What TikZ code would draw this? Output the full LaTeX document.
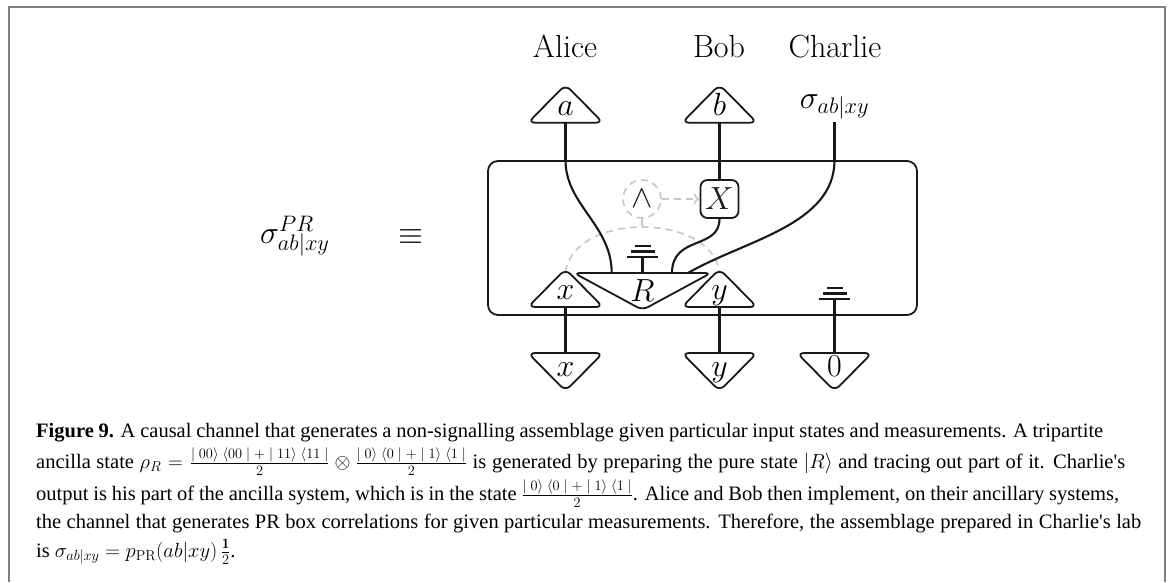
\documentclass[tikz,border=0pt]{standalone}
\usepackage{fix-cm}
\usepackage{fontspec}
\usetikzlibrary{arrows.meta}
\newfontfamily\capfam{Liberation Serif}
\newcommand{\capfont}{\fontsize{20.5}{24}\selectfont\capfam}
% triangles: name, x, y of the flat side, label
\newcommand{\upgate}[4]{
	\draw[gatefrm] (#2-37.5,#3) -- (#2+37.5,#3) -- (#2,#3-38) -- cycle;
	\node[gatenode,text height=22pt] (#1) at (#2,#3-18.5) {$#4$};}
\newcommand{\downgate}[4]{
	\draw[gatefrm] (#2-37.5,#3) -- (#2+37.5,#3) -- (#2,#3+38) -- cycle;
	\node[gatenode,text height=10pt] (#1) at (#2,#3+18.5) {$#4$};}
\newcommand{\groundbars}[1]{
	\draw[wire] (#1) +(-15.5,0) -- +(15.5,0);
	\draw[thinwire] (#1) +(-12,-5.5) -- +(12,-5.5);
	\draw[thinwire] (#1) +(-8,-11) -- +(8,-11);}
\begin{document}
\begin{tikzpicture}[x=1pt,y=-1pt,
	every node/.style={font=\fontsize{32}{38}\selectfont},
	wire/.style={line width=2.8pt,black!90},
	thinwire/.style={line width=2.1pt,black!90},
	gatefrm/.style={line width=1.8pt,black!90,fill=white,rounded corners=7pt},
	gatenode/.style={inner sep=0pt,minimum width=74pt,minimum height=37pt,text depth=0pt},
	gray/.style={line width=1.6pt,black!22,dash pattern=on 7pt off 5pt},
	capline/.style={anchor=base west,inner sep=0pt,font=\capfont}]
	\useasboundingbox (0,0) rectangle (1171,582);
	\draw[line width=2pt,black!50] (9,582) -- (9,7) -- (1165,7) -- (1165,582);
	\node[anchor=base] (alice) at (565,57) {Alice};
	\node[anchor=base] (bob) at (719,57) {Bob};
	\node[anchor=base] (charlie) at (835,57) {Charlie};
	\node[anchor=base east] (sigpr) at (333,243) {$\sigma^{PR}_{ab|xy}$};
	\node (equiv) at (411,237) {$\equiv$};
	\node[draw,line width=1.8pt,black!90,rounded corners=10pt,minimum width=429pt,minimum height=154pt] (lab) at (702.5,238) {};
	\node[anchor=base] (sig) at (834.5,108) {$\sigma_{ab|xy}$};
	\coordinate (sigout) at (834.5,122);
	% gray part
	\node[circle,draw,gray,text=black!90,minimum size=38pt,inner sep=0pt] (wedge) at (642,199) {$\wedge$};
	\coordinate (arctop) at (642,229);
	\node[draw,line width=1.8pt,black!90,fill=white,rounded corners=7pt,minimum size=38pt,inner sep=0pt] (X) at (719.5,199) {$X$};
	\draw[gray,-{To[length=6pt,width=11pt]}] (wedge) -- (X);
	\draw[gray] (wedge) -- (arctop);
	\upgate{aout}{565.5}{122.7}{a}
	\upgate{bout}{719.5}{122.7}{b}
	\downgate{xin}{565.5}{353}{x}
	\downgate{yin}{719.5}{353}{y}
	\downgate{zin}{834.5}{353}{0}
	\draw[gray] (565.5,272) .. controls (574,212) and (711,212) .. (719.5,272);
	\upgate{xset}{565.5}{307}{x}
	\upgate{yset}{719.5}{307}{y}
	\draw[gatefrm,rounded corners=6pt] (574,273) -- (711,273) -- (642.5,310) -- cycle;
	\node[gatenode,minimum width=130pt,text height=20pt] (R) at (642.5,291) {$R$};
	% wires
	\draw[wire] (aout.south) -- (aout.south|-lab.north);
	\draw[wire] (bout.south) -- (X.north);
	\draw[wire] (sigout) -- (sigout|-lab.north);
	\draw[wire] (xin.north) -- (xset.south);
	\draw[wire] (yin.north) -- (yset.south);
	\draw[thinwire] (aout.south|-lab.north) .. controls (565.5,205) and (611.7,225) .. (611.7,273);
	\draw[thinwire] (X.south) .. controls (719.5,250) and (672,235) .. (672,273);
	\draw[thinwire] (sigout|-lab.north) .. controls (834.5,225) and (745,240) .. (688,273);
	\coordinate (gndR) at (642.5,257);
	\groundbars{gndR}
	\draw[wire] (gndR) -- (R.north);
	\coordinate (gndC) at (834.5,299);
	\groundbars{gndC}
	\draw[wire] (gndC) -- (zin.north);
	% caption
	\node[capline] (cap1) at (36,437) {\makebox[1067pt][s]{\textbf{Figure 9.} A causal channel that generates a non-signalling assemblage given particular input states and measurements. A tripartite}};
	\node[capline] (cap2) at (36,468) {\makebox[1089pt][s]{ancilla state $\rho_R=\frac{|\;00\rangle\;\langle 00\;|\;+\;|\;11\rangle\;\langle 11\;|}{2}\otimes\frac{|\;0\rangle\;\langle 0\;|\;+\;|\;1\rangle\;\langle 1\;|}{2}$ is generated by preparing the pure state $|R\rangle$ and tracing out part of it. Charlie's}};
	\node[capline] (cap3) at (36,500) {\makebox[1083pt][s]{output is his part of the ancilla system, which is in the state $\frac{|\;0\rangle\;\langle 0\;|\;+\;|\;1\rangle\;\langle 1\;|}{2}$. Alice and Bob then implement, on their ancillary systems,}};
	\node[capline] (cap4) at (36,528) {\makebox[1105pt][s]{the channel that generates PR box correlations for given particular measurements. Therefore, the assemblage prepared in Charlie's lab}};
	\node[capline] (cap5) at (36,557) {is $\sigma_{ab|xy}=p_{\rm PR}(ab|xy)\,\frac{\mathbf{1}}{2}$.};
\end{tikzpicture}
\end{document}
